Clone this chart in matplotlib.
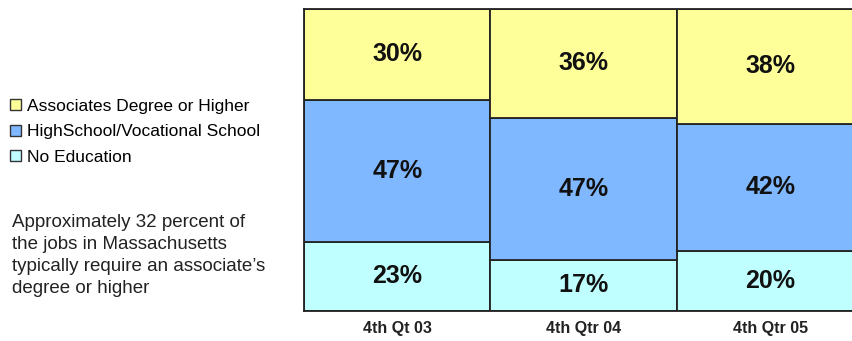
import matplotlib.pyplot as plt
from matplotlib.patches import Patch
import numpy as np

# shares of jobs by education requirement
quarters = ['4th Qt 03', '4th Qtr 04', '4th Qtr 05']
no_education = [23, 17, 20]
high_school = [47, 47, 42]
associates = [30, 36, 38]

series = [
    ('No Education', no_education, '#C0FFFF'),
    ('HighSchool/Vocational School', high_school, '#80B8FF'),
    ('Associates Degree or Higher', associates, '#FFFF99'),
]

plt.rcParams['font.family'] = ['Liberation Sans', 'DejaVu Sans']

fig = plt.figure(figsize=(8.53, 3.41), dpi=100)
ax = fig.add_axes([304 / 853, 1 - 311 / 341, 1 - 304 / 853, (311 - 9) / 341])

x = np.arange(len(quarters))
bottom = np.zeros(len(quarters))
for name, vals, col in series:
    vals = np.array(vals)
    ax.bar(x, vals, width=1.0, bottom=bottom, color=col, edgecolor='#222222',
           linewidth=1.3, label=name)
    for xi, b, v in zip(x, bottom, vals):
        ax.text(xi, b + v / 2, f'{v}%', ha='center', va='center',
                fontsize=18, fontweight='bold', color='#111111')
    bottom += vals

ax.set_xlim(-0.5, 2.444)
ax.set_ylim(0, 100)
ax.set_yticks([])
ax.set_xticks(x)
ax.set_xticklabels(quarters, fontsize=11.5, fontweight='bold', color='#222222')
ax.tick_params(axis='x', length=0, pad=7)
for s in ax.spines.values():
    s.set_color('#222222')
    s.set_linewidth(1.3)

handles = [Patch(facecolor=c, edgecolor='#333333', linewidth=1.0, label=n)
           for n, _, c in series[::-1]]
fig.legend(handles=handles, loc='upper left', bbox_to_anchor=(0.012, 1 - 99 / 341),
           frameon=False, fontsize=12.5, handlelength=0.6, handleheight=0.6,
           handletextpad=0.35, labelspacing=0.6, borderaxespad=0, borderpad=0)

fig.text(12 / 853, 1 - 214 / 341,
         'Approximately 32 percent of\nthe jobs in Massachusetts\ntypically require an associate\u2019s\ndegree or higher',
         ha='left', va='top', fontsize=13.5, color='#222222', linespacing=1.38)

fig.savefig('out.png', dpi=100)
